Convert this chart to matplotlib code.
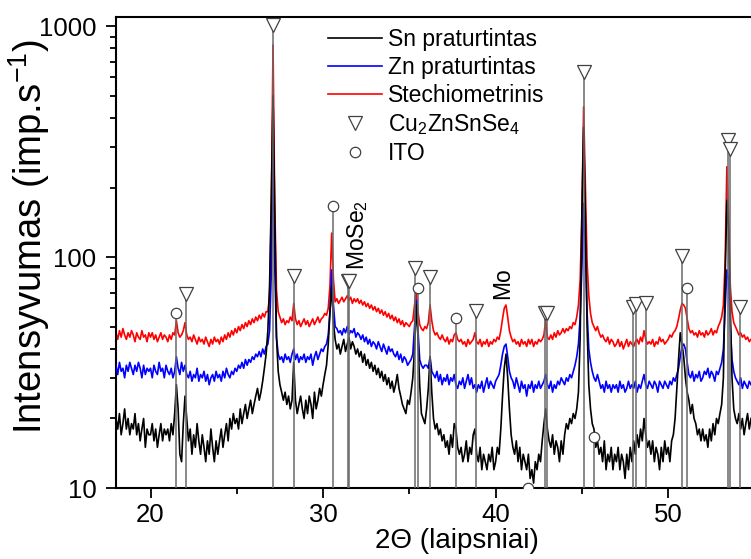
import numpy as np
import matplotlib
matplotlib.use("Agg")
import matplotlib.pyplot as plt
from matplotlib.lines import Line2D
from matplotlib.ticker import FixedLocator, NullFormatter, FixedFormatter

plt.rcParams['font.family'] = ['Liberation Sans', 'DejaVu Sans']
plt.rcParams['mathtext.default'] = 'regular'

# 2theta scan, 0.1 deg step (18.0 ... 54.8)
two_theta = np.round(np.arange(18.0, 54.85, 0.1), 1)

# Sn praturtintas (one row = one degree)
sn = [20, 18, 21, 17, 19, 22, 18, 20, 17, 19,
      18, 21, 17, 19, 16, 18, 20, 15, 18, 17,
      17, 19, 16, 18, 15, 17, 19, 16, 18, 17,
      18, 16, 19, 17, 21, 28, 22, 14, 13, 19,
      25, 20, 16, 18, 14, 17, 15, 19, 16, 14,
      17, 15, 13, 16, 14, 18, 15, 13, 16, 14,
      16, 18, 15, 17, 19, 16, 20, 18, 21, 19,
      20, 18, 22, 19, 21, 23, 20, 22, 24, 21,
      23, 25, 27, 24, 26, 29, 33, 38, 48, 75,
      180, 500, 160, 45, 32, 28, 26, 24, 26, 23,
      25, 22, 24, 35, 24, 21, 23, 25, 22, 20,
      24, 21, 25, 23, 20, 26, 22, 24, 27, 25,
      28, 31, 34, 42, 58, 75, 52, 44, 40, 42,
      38, 41, 44, 39, 42, 45, 40, 43, 41, 38,
      40, 37, 39, 35, 38, 34, 36, 33, 35, 32,
      34, 31, 33, 30, 32, 29, 31, 28, 30, 27,
      29, 26, 28, 31, 27, 25, 23, 22, 21, 24,
      23, 26, 30, 40, 62, 45, 28, 21, 20, 19,
      22, 27, 37, 26, 20, 18, 19, 17, 18, 16,
      17, 15, 16, 14, 17, 15, 19, 18, 15, 14,
      15, 13, 14, 16, 13, 15, 14, 17, 18, 14,
      13, 15, 12, 14, 13, 12, 14, 13, 15, 12,
      13, 15, 14, 18, 25, 33, 38, 30, 22, 17,
      15, 14, 16, 13, 15, 12, 14, 13, 12, 14,
      11, 12, 10.5, 13, 12, 14, 13, 16, 19, 22,
      18, 16, 15, 17, 14, 16, 15, 13, 16, 14,
      17, 19, 18, 20, 19, 21, 20, 22, 26, 45,
      160, 365, 150, 50, 28, 22, 19, 18, 15, 16,
      14, 15, 13, 16, 12, 14, 13, 15, 12, 14,
      13, 15, 12, 14, 13, 11, 14, 12, 15, 13,
      16, 14, 17, 15, 18, 16, 20, 17, 15, 16,
      14, 16, 13, 15, 14, 12, 15, 13, 16, 14,
      15, 13, 16, 17, 20, 27, 36, 47, 42, 37,
      30, 26, 24, 21, 23, 20, 19, 17, 18, 16,
      18, 16, 17, 15, 18, 16, 19, 17, 20, 19,
      21, 23, 30, 80, 176, 130, 60, 30, 22, 20,
      19, 21, 18, 20, 17, 19, 21, 18, 20]

# Zn praturtintas
zn = [34, 31, 35, 32, 33, 30, 34, 32, 35, 33,
      31, 34, 32, 35, 33, 30, 34, 31, 33, 32,
      33, 30, 34, 32, 31, 35, 32, 33, 30, 34,
      32, 31, 33, 30, 32, 37, 33, 31, 35, 32,
      34, 31, 30, 32, 29, 31, 30, 33, 29, 31,
      30, 32, 29, 31, 28, 30, 31, 29, 32, 30,
      31, 29, 32, 30, 33, 31, 30, 32, 31, 33,
      32, 34, 33, 35, 33, 36, 34, 36, 35, 37,
      36, 38, 37, 39, 37, 40, 38, 41, 42, 48,
      85, 282, 90, 45, 38, 36, 37, 35, 38, 36,
      37, 35, 38, 40, 36, 38, 35, 37, 36, 38,
      35, 37, 36, 38, 34, 37, 39, 36, 38, 40,
      39, 41, 42, 46, 58, 88, 62, 50, 49, 47,
      48, 46, 49, 47, 50, 46, 48, 47, 49, 45,
      47, 46, 44, 46, 43, 45, 42, 44, 41, 43,
      42, 40, 43, 41, 39, 42, 40, 38, 41, 39,
      40, 38, 37, 39, 36, 38, 35, 37, 36, 34,
      35, 36, 38, 50, 65, 48, 36, 34, 33, 34,
      34, 33, 37, 32, 31, 30, 32, 29, 31, 28,
      30, 29, 31, 28, 30, 29, 31, 28, 27, 29,
      28, 30, 27, 29, 31, 28, 30, 27, 28, 26,
      28, 27, 29, 26, 28, 30, 27, 29, 28, 27,
      29, 30, 31, 34, 38, 41, 42, 37, 32, 30,
      29, 27, 30, 28, 26, 29, 27, 28, 25, 28,
      27, 29, 26, 28, 27, 29, 27, 28, 29, 31,
      28, 27, 29, 26, 28, 27, 29, 28, 30, 29,
      28, 30, 29, 31, 30, 32, 34, 37, 42, 55,
      90, 171, 110, 58, 40, 35, 32, 30, 29, 31,
      29, 27, 28, 26, 29, 27, 28, 26, 28, 27,
      28, 26, 29, 27, 28, 26, 27, 29, 27, 28,
      27, 29, 26, 28, 27, 29, 31, 28, 27, 29,
      28, 27, 29, 28, 26, 29, 28, 27, 29, 28,
      27, 29, 28, 30, 29, 31, 33, 37, 41, 42,
      40, 35, 31, 30, 32, 29, 31, 30, 32, 29,
      30, 32, 31, 33, 30, 32, 31, 29, 32, 31,
      33, 35, 40, 60, 88, 80, 50, 36, 32, 30,
      29, 28, 30, 27, 29, 28, 27, 29, 28]

# Stechiometrinis
st = [47, 44, 48, 45, 49, 46, 44, 47, 45, 48,
      46, 43, 47, 45, 44, 48, 45, 46, 43, 47,
      45, 47, 44, 46, 43, 45, 47, 44, 46, 45,
      43, 46, 44, 47, 46, 53, 47, 45, 46, 48,
      52, 46, 44, 45, 43, 46, 44, 42, 45, 43,
      44, 42, 45, 43, 41, 44, 42, 45, 43, 44,
      42, 45, 43, 46, 44, 47, 45, 48, 46, 49,
      47, 50, 48, 51, 49, 52, 50, 53, 51, 54,
      52, 55, 53, 56, 54, 57, 55, 58, 58, 68,
      160, 828, 170, 72, 58, 55, 52, 54, 51, 53,
      52, 55, 53, 63, 54, 51, 53, 50, 52, 54,
      51, 53, 50, 52, 54, 51, 53, 55, 52, 54,
      55, 57, 56, 60, 75, 127, 80, 64, 66, 63,
      65, 67, 64, 66, 68, 65, 67, 63, 66, 64,
      66, 63, 65, 62, 64, 61, 63, 60, 62, 59,
      61, 58, 60, 57, 59, 56, 58, 55, 57, 54,
      56, 53, 55, 52, 54, 51, 53, 50, 52, 51,
      50, 52, 53, 62, 72, 58, 51, 49, 48, 50,
      49, 52, 62, 53, 48, 46, 47, 45, 44, 46,
      44, 43, 45, 42, 44, 43, 46, 47, 44, 43,
      44, 42, 43, 41, 44, 42, 43, 44, 47, 43,
      42, 44, 41, 43, 42, 44, 41, 43, 42, 44,
      43, 45, 44, 48, 54, 60, 62, 55, 48, 45,
      43, 44, 42, 43, 41, 44, 42, 43, 41, 44,
      42, 44, 41, 43, 42, 44, 43, 44, 46, 53,
      45, 44, 46, 44, 47, 45, 48, 46, 47, 49,
      47, 49, 48, 50, 49, 52, 51, 55, 62, 80,
      150, 447, 210, 95, 68, 57, 52, 50, 48, 50,
      47, 45, 46, 44, 43, 45, 42, 44, 43, 41,
      42, 44, 41, 43, 40, 42, 44, 41, 43, 42,
      41, 43, 44, 42, 45, 43, 48, 44, 42, 43,
      42, 44, 41, 43, 42, 45, 43, 44, 42, 43,
      44, 46, 45, 47, 48, 50, 54, 59, 63, 62,
      60, 54, 49, 47, 48, 46, 47, 45, 48, 46,
      47, 45, 48, 46, 47, 49, 46, 48, 47, 50,
      52, 55, 62, 95, 246, 150, 75, 58, 52, 50,
      48, 46, 47, 45, 46, 44, 45, 43, 44]

# reference reflections
czts_x = [22.07, 27.1, 28.3, 31.44, 31.53, 35.32, 36.2, 38.87, 42.87, 42.95,
          45.15, 47.98, 48.12, 48.7, 50.78, 53.45, 53.56, 54.16]
czts_y = [69, 1010, 83, 78.7, 78.7, 89.5, 82, 58.6, 57, 57,
          632, 60.7, 62.8, 63.5, 101, 321, 294, 60.7]
ito_x = [21.47, 30.58, 35.49, 37.72, 41.89, 45.73, 51.1]
ito_y = [57.4, 167, 73.7, 54.6, 10, 16.6, 73.5]

fig = plt.figure(figsize=(7.51, 5.59), dpi=100)
ax = fig.add_axes([116/751, 1-488/559, 1-116/751, (488-17)/559])

ax.plot(two_theta, st, color='red', lw=1.2, zorder=2)
ax.plot(two_theta, zn, color='blue', lw=1.2, zorder=3)
ax.plot(two_theta, sn, color='black', lw=1.2, zorder=4)

ax.set_yscale('log')
ax.set_xlim(18, 54.8)
ax.set_ylim(10, 1095)
ybot = ax.get_ylim()[0]

lc = '#6a6a6a'
ax.vlines(czts_x, ybot, czts_y, colors=lc, lw=1.1, zorder=5)
ax.vlines(ito_x, ybot, ito_y, colors=lc, lw=1.1, zorder=5)
ax.plot(czts_x, czts_y, ls='none', marker='v', ms=9.5, mfc='white', mec='#404040', mew=0.9, zorder=6)
ax.plot(ito_x, ito_y, ls='none', marker='o', ms=7.5, mfc='white', mec='#404040', mew=0.9, zorder=6)

ax.text(32.0, 88, 'MoSe$_2$', rotation=90, ha='center', va='bottom', fontsize=16.5)
ax.text(40.4, 66, 'Mo', rotation=90, ha='center', va='bottom', fontsize=16.5)

ax.xaxis.set_major_locator(FixedLocator([20, 30, 40, 50]))
ax.xaxis.set_minor_locator(FixedLocator([25, 35, 45]))
ax.yaxis.set_major_locator(FixedLocator([10, 100, 1000]))
ax.yaxis.set_major_formatter(FixedFormatter(['10', '100', '1000']))
ax.yaxis.set_minor_locator(FixedLocator([a*b for b in (10, 100) for a in range(2, 10)]))
ax.yaxis.set_minor_formatter(NullFormatter())
ax.tick_params(which='both', direction='out', width=1.3, labelsize=18.5, top=False, right=False)
ax.tick_params(which='major', length=7)
ax.tick_params(which='minor', length=4)
ax.tick_params(axis='y', which='major', pad=7)
for s in ['left', 'bottom', 'top']:
    ax.spines[s].set_linewidth(1.5)
ax.spines['right'].set_visible(False)

ax.set_xlabel('2Θ (laipsniai)', fontsize=20)
ax.set_ylabel('Intensyvumas (imp.s$^{-1}$)', fontsize=27.5)
ax.xaxis.set_label_coords((457-116)/635, (488-528)/471)
ax.yaxis.set_label_coords((52-116)/635, (488-236)/471)

h = [Line2D([], [], color='black', lw=1.2),
     Line2D([], [], color='blue', lw=1.2),
     Line2D([], [], color='red', lw=1.2),
     Line2D([], [], ls='none', marker='v', ms=9.5, mfc='white', mec='#404040', mew=0.9),
     Line2D([], [], ls='none', marker='o', ms=7.5, mfc='white', mec='#404040', mew=0.9)]
labels = ['Sn praturtintas', 'Zn praturtintas', 'Stechiometrinis', 'Cu$_2$ZnSnSe$_4$', 'ITO']
ax.legend(h, labels, loc='upper left', bbox_to_anchor=(328/751, 1-28/559),
          bbox_transform=fig.transFigure, frameon=False, fontsize=16.5,
          handlelength=2.35, handletextpad=0.25, labelspacing=0.22,
          borderpad=0, borderaxespad=0, numpoints=1)

fig.savefig('out.png', dpi=100)
